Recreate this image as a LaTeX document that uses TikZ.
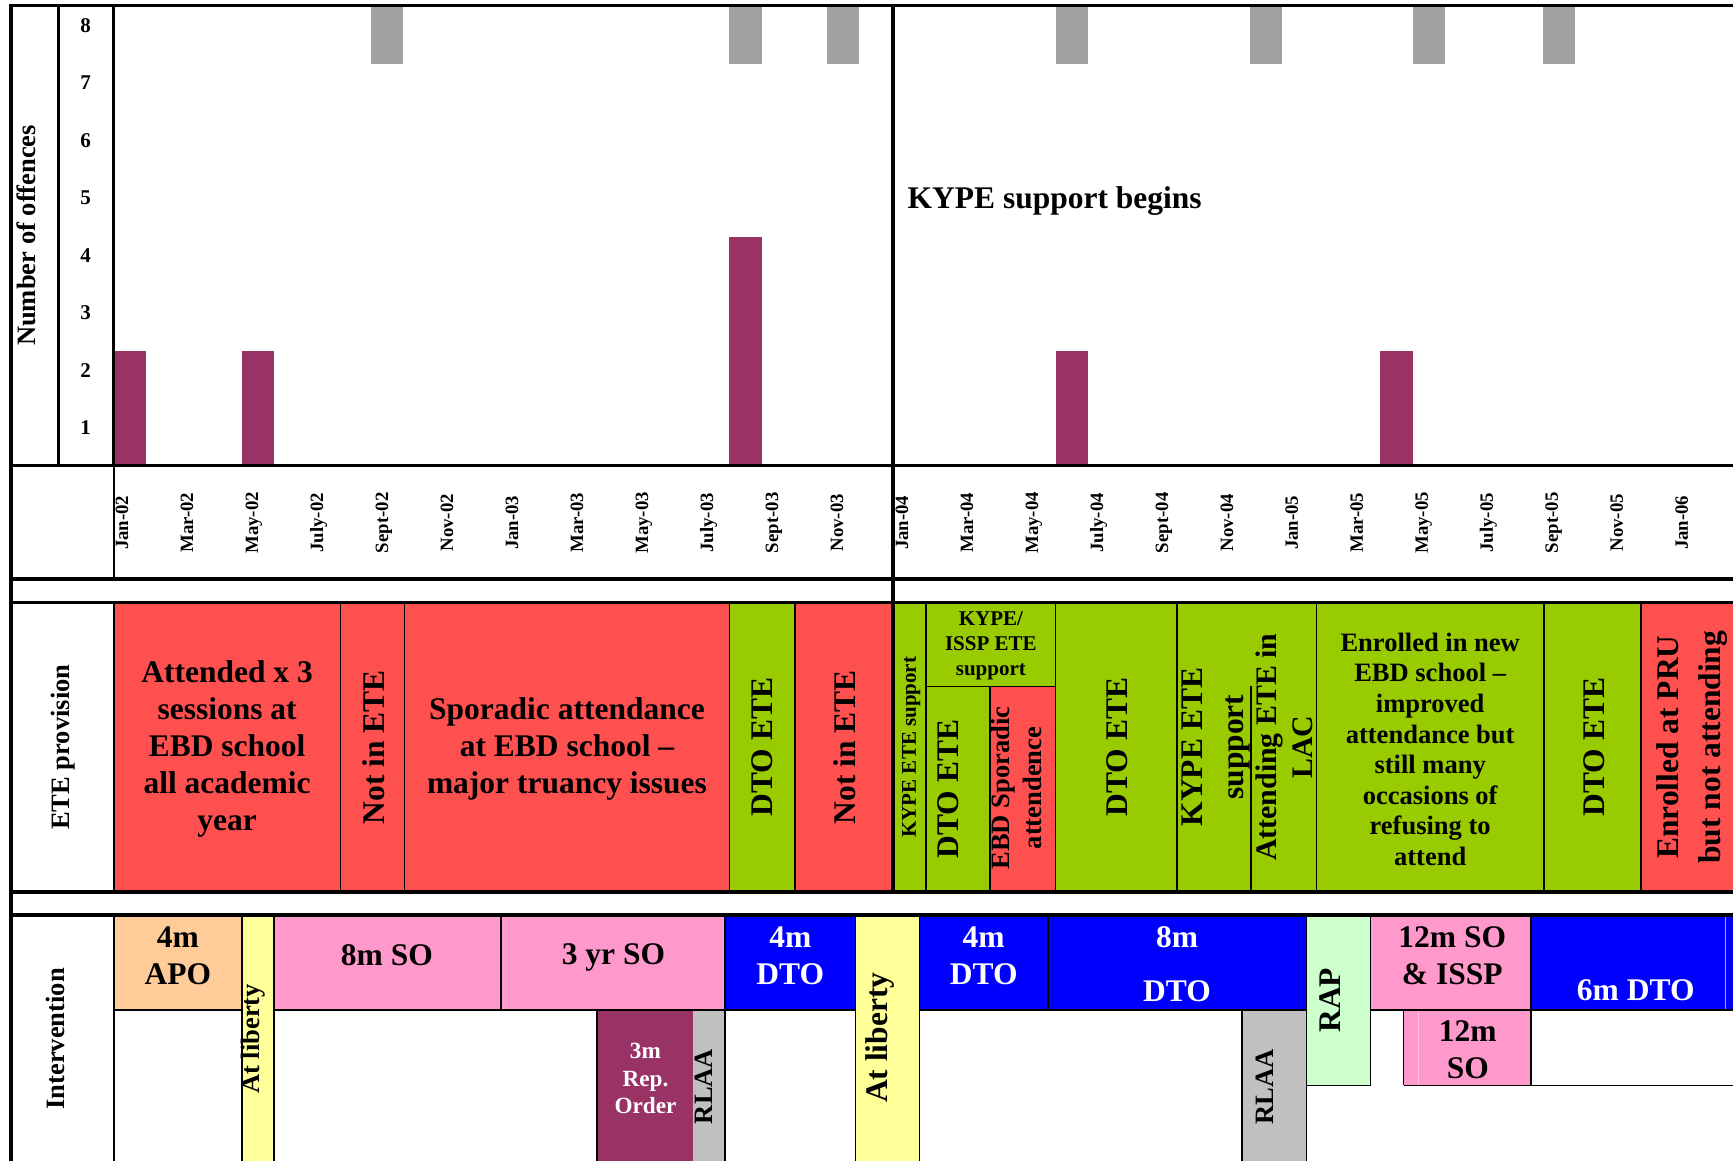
\documentclass[tikz,border=0pt]{standalone}
\usepackage{fontspec}
\setmainfont{Liberation Serif}
\definecolor{cred}{HTML}{FF5050}
\definecolor{cgreen}{HTML}{99CC00}
\definecolor{cblue}{HTML}{0000FF}
\definecolor{cpink}{HTML}{FF99CC}
\definecolor{cpeach}{HTML}{FFCC99}
\definecolor{cyellow}{HTML}{FFFF99}
\definecolor{clgreen}{HTML}{CCFFCC}
\definecolor{cgray}{HTML}{C0C0C0}
\definecolor{cmaroon}{HTML}{993366}
\definecolor{chatch}{HTML}{A0A0A0}
\newcommand\myfont[2]{\fontsize{#1}{#2}\selectfont\bfseries}
\tikzset{
  txt/.style={inner sep=0pt, align=center, font=\myfont{28.5}{33.5}},
  vtxt/.style={txt, rotate=90},
  rlab/.style={inner sep=0pt, rotate=90, font=\myfont{24}{28}},
  numlab/.style={inner sep=0pt, font=\myfont{19}{22}},
  monthlab/.style={inner sep=0pt, rotate=90, anchor=base, font=\myfont{17}{20}},
  thk/.style={line width=3pt},
  thn/.style={line width=1.5pt},
  faint/.style={line width=0.8pt}
}
\begin{document}
\begin{tikzpicture}[x=1pt,y=-1pt]
\useasboundingbox (0,0) rectangle (1568,1050);
\clip (0,0) rectangle (1568,1050);
\fill[white] (0,0) rectangle (1568,1050);

% ---------- chart bars ----------
\foreach \xx/\tp in {103/318, 219/318, 660/214, 955/318, 1249/318}
  \fill[cmaroon] (\xx,\tp) rectangle ({\xx+29},421);
\foreach \xx in {336,660,748,955,1131,1278,1396}
  \fill[chatch] (\xx,5) rectangle ({\xx+29},58);

% ---------- ETE fills ----------
\fill[cred] (103,545) rectangle (660,807);
\fill[cgreen] (660,545) rectangle (719,807);
\fill[cred] (719,545) rectangle (808,807);
\fill[cgreen] (808,545) rectangle (1580,807);
\fill[cred] (896,621) rectangle (955,807);
\fill[cred] (1485,545) rectangle (1580,807);

% ---------- intervention fills ----------
\fill[cpeach] (103,828) rectangle (219,914);
\fill[cyellow] (219,828) rectangle (248,1060);
\fill[cpink] (248,828) rectangle (656,914);
\fill[cblue] (656,828) rectangle (774,914);
\fill[cyellow] (774,828) rectangle (832,1060);
\fill[cblue] (832,828) rectangle (1182,914);
\fill[clgreen] (1182,828) rectangle (1240,982);
\fill[cpink] (1240,828) rectangle (1385,914);
\fill[cblue] (1385,828) rectangle (1580,914);
\fill[cpink] (1270,914) rectangle (1385,982);
\fill[cmaroon] (540,914) rectangle (627,1060);
\fill[cgray] (627,914) rectangle (656,1060);
\fill[cgray] (1124,914) rectangle (1182,1060);
\draw[faint, blue!35!white] (1561,828) -- (1561,914);
\draw[faint, cpink!60!white] (1283,914) -- (1283,982);

% ---------- frame lines ----------
\foreach \yy in {5,421,524,545,807,828}
  \draw[thk] (10,\yy) -- (1580,\yy);
\draw[thk] (10,3.5) -- (10,1060);
\draw[thk] (53,5) -- (53,421);
\draw[thk] (103,5) -- (103,421);
\draw[thn] (103,421) -- (103,524);
\draw[thn] (103,545) -- (103,807);
\draw[thn] (103,828) -- (103,1060);
\draw[thk] (808,5) -- (808,807);

% ETE cell lines
\foreach \xx in {308,366,660,719,838,955,1065,1191,1397,1485}
  \draw[thn] (\xx,545) -- (\xx,807);
\draw[thn] (896,621) -- (896,807);
\draw[thn] (1132,621) -- (1132,807);
\draw[thn] (838,621) -- (955,621);

% intervention cell lines
\draw[thn] (103,914) -- (219,914);
\draw[thn] (248,914) -- (774,914);
\draw[thn] (832,914) -- (1182,914);
\draw[thn] (1240,914) -- (1580,914);
\draw[thn] (1182,982) -- (1240,982);
\draw[thn] (1270,982) -- (1580,982);
\foreach \xx in {219,248,656,774,832,1182}
  \draw[thn] (\xx,828) -- (\xx,1060);
\foreach \xx in {453,948}
  \draw[thn] (\xx,828) -- (\xx,914);
\foreach \xx in {540,1124}
  \draw[thn] (\xx,914) -- (\xx,1060);
\foreach \xx in {1240,1385}
  \draw[thn] (\xx,828) -- (\xx,982);
\draw[thn] (1270,914) -- (1270,982);

% ---------- chart labels ----------
\node[rlab] (lblnum) at (23.5,213) {Number of offences};
\foreach \v/\yy in {8/23,7/75,6/127,5/179,4/231,3/283,2/335,1/387}
  \node[numlab] (num\v) at (77.5,\yy) {\v};
\node[txt, anchor=base west] (kype) at (821,189) {KYPE support begins};

\foreach \m/\lab in {0/Jan-02,2/Mar-02,4/May-02,6/July-02,8/Sept-02,10/Nov-02,
  12/Jan-03,14/Mar-03,16/May-03,18/July-03,20/Sept-03,22/Nov-03,
  24/Jan-04,26/Mar-04,28/May-04,30/July-04,32/Sept-04,34/Nov-04,
  36/Jan-05,38/Mar-05,40/May-05,42/July-05,44/Sept-05,46/Nov-05,48/Jan-06}
  \node[monthlab] (mon\m) at ({103+29.4*\m+13},473) {\lab};

% ---------- ETE labels ----------
\node[rlab] (lblete) at (57,676) {ETE provision};
\node[txt] (ete1) at (205.5,678) {Attended x 3\\sessions at\\EBD school\\all academic\\year};
\node[vtxt] (ete2) at (338,676) {Not in ETE};
\node[txt] (ete3) at (513,678) {Sporadic attendance\\at EBD school --\\major truancy issues};
\node[vtxt] (ete4) at (690,676) {DTO ETE};
\node[vtxt] (ete5) at (764,676) {Not in ETE};
\node[vtxt, font=\myfont{19}{22}] (ete6) at (824.5,676) {KYPE ETE support};
\node[txt, font=\myfont{19}{22.5}] (ete7) at (896.5,584) {KYPE/\\ISSP ETE\\support};
\node[vtxt] (ete8) at (858,714) {DTO ETE};
\node[vtxt, font=\myfont{24}{29}] (ete9) at (920,713) {EBD Sporadic\\attendence};
\node[vtxt] (ete10) at (1010.5,676) {DTO ETE};
\node[vtxt, font=\myfont{28.5}{37}] (ete11) at (1100.5,676) {KYPE ETE\\support};
\node[vtxt, font=\myfont{27}{32}] (ete12) at (1162,676) {Attending ETE in\\LAC};
\node[txt, font=\myfont{24}{27.7}] (ete13) at (1294,678) {Enrolled in new\\EBD school --\\improved\\attendance but\\still many\\occasions of\\refusing to\\attend};
\node[vtxt] (ete14) at (1442,676) {DTO ETE};
\node[vtxt, font=\myfont{28.5}{37.7}] (ete15) at (1531,676) {Enrolled at PRU\\but not attending};

% ---------- intervention labels ----------
\node[rlab] (lblint) at (50,940) {Intervention};
\node[txt] (int1) at (161,864.5) {4m\\APO};
\node[vtxt, font=\myfont{24}{28}] (int2) at (229,940) {At liberty};
\node[txt] (int3) at (350,864) {8m SO};
\node[txt] (int4) at (555,866) {3 yr SO};
\node[txt, text=white] (int5) at (715,864.5) {4m\\DTO};
\node[vtxt] (int6) at (796,939) {At liberty};
\node[txt, text=white, font=\myfont{21}{25}] (int7) at (584,976) {3m\\Rep.\\Order};
\node[vtxt, font=\myfont{24}{28}] (int8) at (637,983) {RLAA};
\node[txt, text=white] (int9) at (890,864.5) {4m\\DTO};
\node[txt, text=white, font=\myfont{28.5}{49}] (int10) at (1065,872) {8m\\DTO};
\node[vtxt] (int11) at (1203.5,905) {RAP};
\node[txt] (int12) at (1314,864.5) {12m SO\\\& ISSP};
\node[txt, text=white] (int13) at (1480,896) {6m DTO};
\node[txt] (int14) at (1328,950) {12m\\SO};
\node[vtxt, font=\myfont{24}{28}] (int15) at (1144.5,983.5) {RLAA};
\end{tikzpicture}
\end{document}
